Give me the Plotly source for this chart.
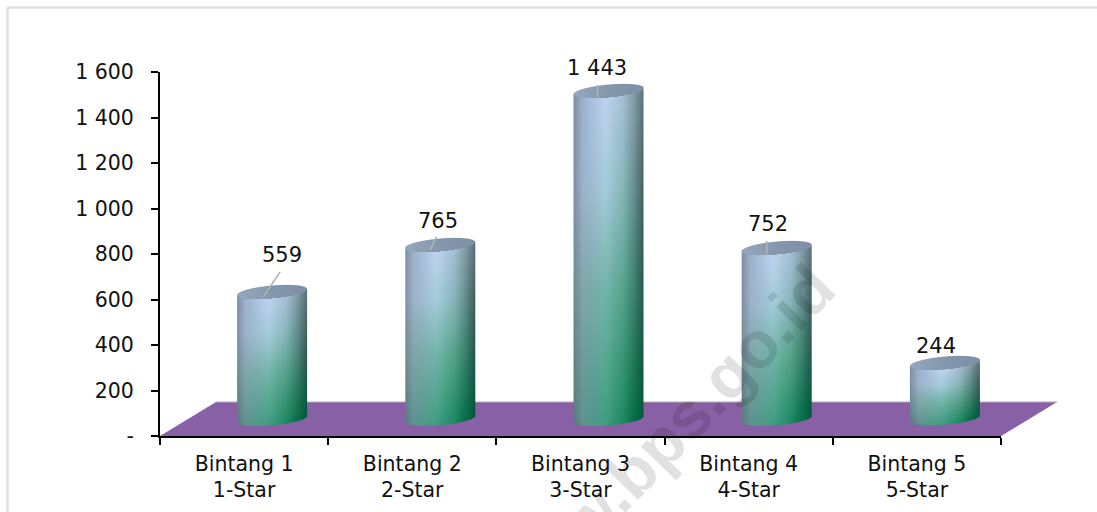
import numpy as np
import plotly.graph_objects as go

# ---- data ----
categories = ["Bintang 1<br>1-Star", "Bintang 2<br>2-Star", "Bintang 3<br>3-Star",
              "Bintang 4<br>4-Star", "Bintang 5<br>5-Star"]
values = [559, 765, 1443, 752, 244]
y_ticks = [0, 200, 400, 600, 800, 1000, 1200, 1400, 1600]
y_labels = ["-", "200", "400", "600", "800", "1 000", "1 200", "1 400", "1 600"]

# ---- label placement, relative to each bar (category units / px) ----
label_dx = [0.226, 0.155, 0.101, 0.113, 0.113]
label_shift = [54, 41, 40, 41, 34.5]
leader_dx0 = [0.113, 0.107, 0.101, 0.107]
leader_dx1 = [0.214, 0.143, 0.101, 0.107]
leader_dy0 = [52, 53, 47, 48]
leader_dy1 = [162, 110, 100, 105]

# ---- figure geometry ----
W, H = 1097, 512
ML, MR, MT, MB = 160, 96, 72, 76
PW, PH = W - ML - MR, H - MT - MB
X_UNIT = PW / 5          # px per category
Y_UNIT = PH / 1600       # px per value unit
BAR_DX = 28 / X_UNIT     # bar centre offset from category centre
BASE = 75                # bar base centre above the axis, in value units
HALF_W = 35              # px
ELL_B = 6.5              # px
TILT = 3.0               # px

U_KNOTS = np.array([0, .12, .45, .7, .85, 1])
T_KNOTS = np.array([0, .28, .6, 1])
RAMP = ["7b8ea4 9db1cb bdd4f0 a4c0d4 869ea8 5a7280",
        "7f90a5 9cb1ca a4ccda 88b6ba 689294 466060",
        "708a95 7fa5a8 70b4a8 57a28b 3c866e 285650",
        "5a7a7e 5e9290 3f9e80 1e8a62 087048 00583a"]
RAMP = np.array([[[int(c[i:i + 2], 16) for i in (0, 2, 4)] for c in row.split()] for row in RAMP], float)
TOP_COL = np.array([[0x96, 0xa8, 0xbe], [0x84, 0x97, 0xad], [0x7f, 0x90, 0xa5]], float)


def side_colour(u, t):
    out = np.zeros(3)
    for k in range(3):
        col = [np.interp(u, U_KNOTS, RAMP[r, :, k]) for r in range(4)]
        out[k] = np.interp(t, T_KNOTS, col)
    return out


def bar_image(value):
    """RGBA cylinder, one cell per screen pixel; height follows the value."""
    h = value * Y_UNIT
    pad = int(ELL_B + TILT + 2)
    rows = int(np.ceil(h)) + 2 * pad
    img = np.zeros((rows, 2 * HALF_W, 4), dtype=np.uint8)
    for c in range(2 * HALF_W):
        v = (c + 0.5 - HALF_W) / HALF_W
        s = np.sqrt(max(0, 1 - v * v))
        tilt = -TILT * v
        u = (v + 1) / 2
        for r in range(rows):
            d = r + 0.5 - pad            # px below the top-ellipse centre
            top_near = tilt + ELL_B * s
            top_far = tilt - ELL_B * s
            bottom = h + tilt + ELL_B * s * 0.95
            if d < top_far - 0.5 or d > bottom + 0.5:
                continue
            a = 1.0
            if d < top_far + 0.5:
                a = d - (top_far - 0.5)
            if d > bottom - 0.5:
                a = bottom + 0.5 - d
            if d <= top_near:
                col = np.array([np.interp(u, [0, .5, 1], TOP_COL[:, k]) for k in range(3)])
            else:
                t = min(1, max(0, (d - top_near) / (bottom - top_near)))
                col = side_colour(u, t)
            img[r, c, :3] = col
            img[r, c, 3] = int(255 * a)
    return img, pad


def px(x):
    return (x - ML) / PW


def py(y):
    return 1 - (y - MT) / PH


fig = go.Figure()

# cylinders
for i, v in enumerate(values):
    img, pad = bar_image(v)
    cx = i + 1 + BAR_DX
    dx = 1 / X_UNIT
    dy = 1 / Y_UNIT
    fig.add_trace(go.Image(z=img, colormodel="rgba", zmin=[0, 0, 0, 0], zmax=[255, 255, 255, 255],
                           x0=cx - HALF_W * dx + dx / 2,
                           y0=BASE + v + (pad - 0.5) * dy,
                           dx=dx, dy=-dy, hoverinfo="skip"))

# leader lines
for i in range(4):
    fig.add_trace(go.Scatter(x=[i + 1 + leader_dx0[i], i + 1 + leader_dx1[i]],
                             y=[values[i] + leader_dy0[i], values[i] + leader_dy1[i]],
                             mode="lines", line=dict(color="#b3b3b3", width=1.6),
                             hoverinfo="skip", showlegend=False))

labels = [dict(text=f"{v:,}".replace(",", " "), x=i + 1 + label_dx[i], y=v, xref="x", yref="y",
               yshift=label_shift[i], xanchor="center", yanchor="middle", showarrow=False,
               font=dict(family="DejaVu Sans", size=21, color="#111111"))
          for i, v in enumerate(values)]

watermark = dict(text="<b>www.bps.go.id</b>", xref="paper", yref="paper", x=px(661), y=py(443),
                 xanchor="center", yanchor="middle", showarrow=False, textangle=-46,
                 font=dict(family="Liberation Sans", size=66, color="black"), opacity=0.115)

frame = dict(type="line", xref="paper", yref="paper", line=dict(color="#e0e0e0", width=2.5), layer="below")
floor_path = "M {} {} L {} {} L {} {} L {} {} Z".format(px(160), py(436), px(216), py(402),
                                                        px(1057), py(402), px(1001), py(436))
fig.update_layout(
    width=W, height=H, autosize=False,
    margin=dict(l=ML, r=MR, t=MT, b=MB, pad=0, autoexpand=False),
    paper_bgcolor="white", plot_bgcolor="rgba(0,0,0,0)",
    showlegend=False,
    xaxis=dict(range=[0.5, 5.5], autorange=False, constrain="range", tickmode="array", tickvals=[1, 2, 3, 4, 5],
               ticktext=categories, tickangle=0,
               ticks="outside", ticklen=0, tickcolor="black", showgrid=False, zeroline=False,
               showline=True, linecolor="black", linewidth=2, ticklabelstandoff=8,
               tickfont=dict(family="DejaVu Sans", size=20.5, color="#111111"),
               minor=dict(tickmode="array", tickvals=[0.5, 1.5, 2.5, 3.5, 4.5, 5.5], ticks="outside",
                          ticklen=7, tickwidth=2, tickcolor="black", showgrid=False)),
    yaxis=dict(range=[0, 1600], autorange=False, scaleanchor=False, constrain="range",
               tickmode="array", tickvals=y_ticks, ticktext=y_labels,
               ticks="outside", ticklen=7, tickwidth=2, tickcolor="black", showgrid=False, zeroline=False,
               showline=True, linecolor="black", linewidth=2, ticklabelstandoff=13,
               tickfont=dict(family="DejaVu Sans", size=20.5, color="#111111")),
    shapes=[dict(frame, x0=px(7.5), x1=px(W), y0=py(7.5), y1=py(7.5)),
            dict(frame, x0=px(7.5), x1=px(7.5), y0=py(7.5), y1=py(H)),
            dict(type="path", xref="paper", yref="paper", path=floor_path, fillcolor="#8860a5",
                 line=dict(width=0), layer="below"),
            dict(type="line", xref="paper", yref="paper", x0=px(216), x1=px(1057), y0=py(402), y1=py(402),
                 line=dict(color="#b5a6c2", width=1), layer="below")],
    annotations=labels + [watermark],
)

fig.write_html("out.html", config=dict(displayModeBar=False),
               post_script="document.body.style.margin='0';document.body.style.overflow='hidden';")
